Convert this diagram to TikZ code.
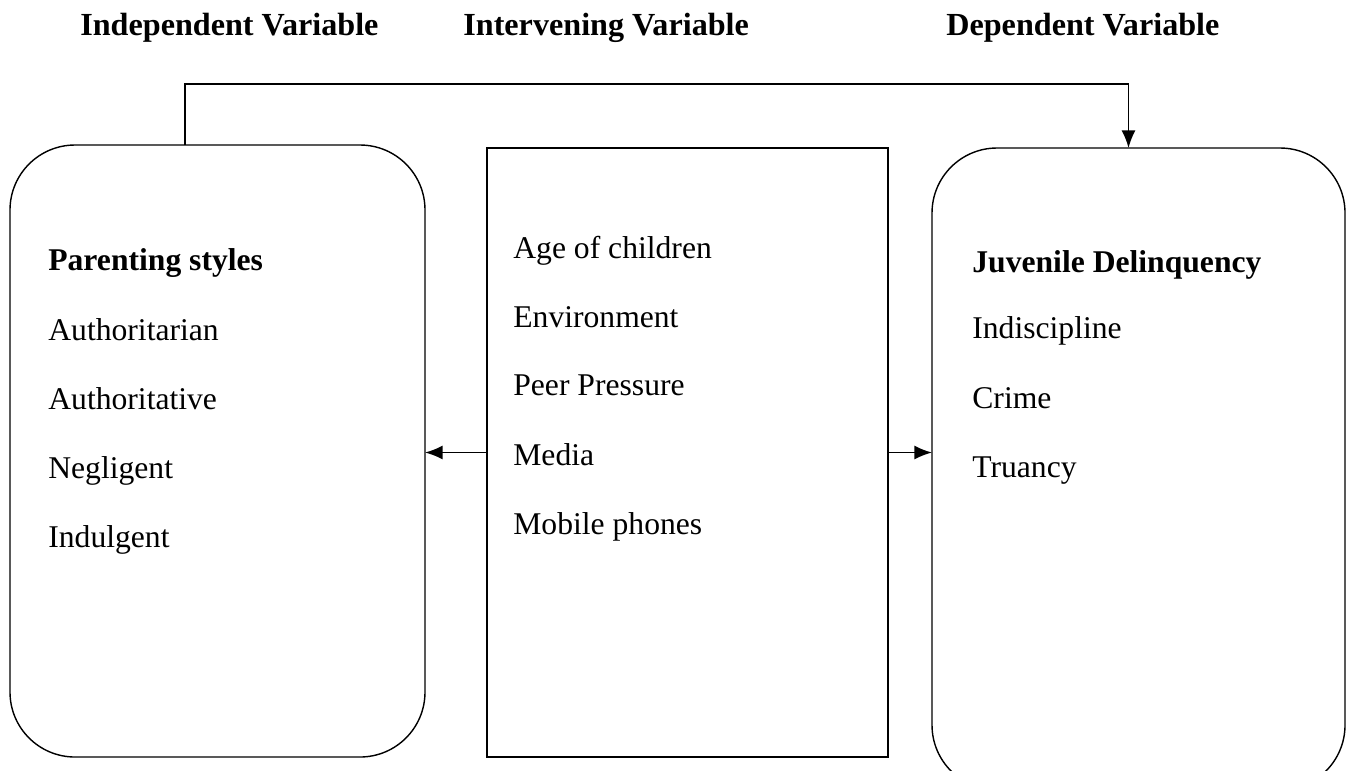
\documentclass[tikz,border=0pt]{standalone}
\usepackage{fontspec}
\setmainfont{Liberation Serif}
\usetikzlibrary{arrows.meta}
\tikzset{
  varbox/.style={draw,line width=0.8pt,inner sep=0pt,outer sep=0pt},
  item/.style={anchor=base west,inner sep=0pt},
  link/.style={line width=1pt,-{Latex[length=10pt,width=8pt]}}
}

\begin{document}
\begin{tikzpicture}[font=\fontsize{18}{22}\selectfont]
        \useasboundingbox (0,0) rectangle (27,-15.4);
        % column heads
        \node[item,font=\fontsize{18.3}{22}\selectfont\bfseries] (hind) at (1.6,-0.7) {Independent Variable};
        \node[item,font=\fontsize{18.3}{22}\selectfont\bfseries] (hint) at (9.26,-0.7) {Intervening Variable};
        \node[item,font=\fontsize{18.3}{22}\selectfont\bfseries] (hdep) at (18.92,-0.7) {Dependent Variable};
        % boxes
        \node[varbox,rounded corners=1.3cm,minimum width=8.3cm,minimum height=12.24cm] (indep) at (4.35,-9.02) {};
        \node[varbox,minimum width=8.02cm,minimum height=12.18cm] (inter) at (13.75,-9.05) {};
        \node[varbox,rounded corners=1.3cm,minimum width=8.26cm,minimum height=12.84cm] (dep) at (22.77,-9.38) {};
        % box texts
        \node[item,font=\fontsize{18}{22}\selectfont\bfseries] (par) at (0.96,-5.4) {Parenting styles};
        \node[item] (par1) at (0.96,-6.8) {Authoritarian};
        \node[item] (par2) at (0.96,-8.18) {Authoritative};
        \node[item] (par3) at (0.96,-9.56) {Negligent};
        \node[item] (par4) at (0.96,-10.94) {Indulgent};
        \node[item] (int1) at (10.26,-5.16) {Age of children};
        \node[item] (int2) at (10.26,-6.54) {Environment};
        \node[item] (int3) at (10.26,-7.9) {Peer Pressure};
        \node[item] (int4) at (10.26,-9.3) {Media};
        \node[item] (int5) at (10.26,-10.68) {Mobile phones};
        \node[item,font=\fontsize{18}{22}\selectfont\bfseries] (juv) at (19.44,-5.44) {Juvenile Delinquency};
        \node[item] (juv1) at (19.44,-6.76) {Indiscipline};
        \node[item] (juv2) at (19.44,-8.16) {Crime};
        \node[item] (juv3) at (19.44,-9.54) {Truancy};
        % connectors
        \draw[link] (inter.west) -- (indep.east |- inter.west);
        \draw[link] (inter.east) -- (dep.west |- inter.east);
        \draw[link] ([xshift=-0.65cm]indep.north) -- ++(0,1.22) -| ([xshift=-0.2cm]dep.north);
      \end{tikzpicture}
\end{document}
